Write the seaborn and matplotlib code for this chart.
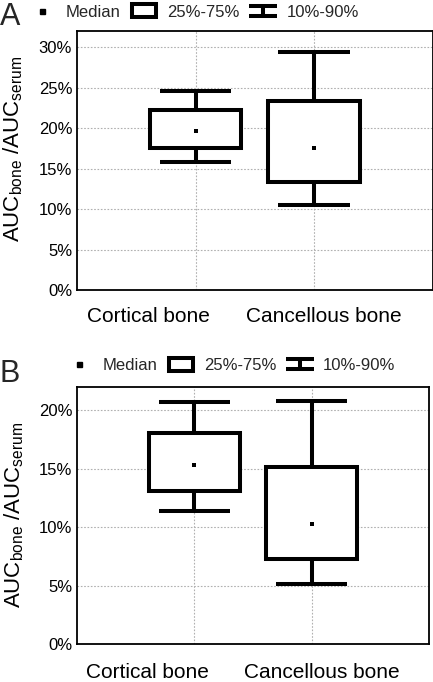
import matplotlib
matplotlib.use('Agg')
import matplotlib.pyplot as plt
import matplotlib.transforms as mtransforms
from matplotlib.lines import Line2D
from matplotlib.patches import Patch
from matplotlib.path import Path
import seaborn as sns

# data (percent)
categories = ['Cortical bone', 'Cancellous bone']
stat_labels = ['Median', '25%-75%', '10%-90%']

a_p10 = [15.8, 10.5]
a_q1 = [17.55, 13.4]
a_median = [19.65, 17.6]
a_q3 = [22.2, 23.4]
a_p90 = [24.6, 29.4]
a_yticks = [0, 5, 10, 15, 20, 25, 30]

b_p10 = [11.4, 5.1]
b_q1 = [13.1, 7.25]
b_median = [15.3, 10.3]
b_q3 = [18.0, 15.1]
b_p90 = [20.7, 20.8]
b_yticks = [0, 5, 10, 15, 20]

sns.set_theme(style='white')
plt.rcParams['font.family'] = ['Liberation Sans', 'DejaVu Sans']
plt.rcParams['mathtext.default'] = 'regular'
plt.rcParams['lines.solid_capstyle'] = 'butt'

LW = 2.9

# I-shaped marker for the 10%-90% legend entry
whisker_icon = Path(
    [(-1, 0.38), (1, 0.38), (0, 0.38), (0, -0.38), (-1, -0.38), (1, -0.38)],
    [Path.MOVETO, Path.LINETO, Path.MOVETO, Path.LINETO, Path.MOVETO, Path.LINETO])


def draw_panel(fig, rect, p10, q1, med, q3, p90, yticks, ymax,
               letter, letter_y, legend_xy, ylabel_y, xpad):
    ax = fig.add_axes(rect)
    pos = list(range(len(categories)))
    stats = [dict(med=m, q1=a, q3=b, whislo=lo, whishi=hi, fliers=[])
             for m, a, b, lo, hi in zip(med, q1, q3, p10, p90)]
    ax.bxp(stats, positions=pos, widths=0.77, capwidths=0.6,
           patch_artist=True, manage_ticks=False, zorder=2,
           boxprops=dict(facecolor='white', edgecolor='black', linewidth=LW),
           whiskerprops=dict(color='black', linewidth=LW),
           capprops=dict(color='black', linewidth=LW),
           medianprops=dict(visible=False))
    sns.scatterplot(x=pos, y=med, marker='s', s=10, color='black',
                    linewidth=0, ax=ax, legend=False, zorder=3)

    ax.set_xlim(-1, 2)
    ax.set_ylim(0, ymax)
    ax.set_xticks(pos)
    ax.set_xticklabels(categories, fontsize=15)
    ax.set_yticks(yticks)
    ax.set_yticklabels([f'{v}%' for v in yticks], fontsize=12)
    ax.tick_params(axis='y', length=0, pad=3.5, colors='black')
    ax.tick_params(axis='x', length=0, pad=xpad, colors='black')
    # category labels sit off-centre in the original
    for lab, dx in zip(ax.get_xticklabels(), [-34, 7]):
        lab.set_transform(lab.get_transform() +
                          mtransforms.ScaledTranslation(dx / 72, 0, fig.dpi_scale_trans))

    ax.grid(True, color='#b0b0b0', linestyle=(0, (1.5, 1.5)), linewidth=0.8)
    ax.set_axisbelow(True)
    for sp in ax.spines.values():
        sp.set_visible(True)
        sp.set_color('black')
        sp.set_linewidth(1.3)

    ax.set_ylabel(r'AUC$_{bone}$ /AUC$_{serum}$', fontsize=16, color='black')
    ax.yaxis.set_label_coords(-0.145, ylabel_y)

    fig.text(0.0, letter_y, letter, fontsize=22, va='baseline', ha='left')

    handles = [
        Line2D([], [], marker='s', color='black', linestyle='none', markersize=3.6),
        Patch(facecolor='white', edgecolor='black', linewidth=LW),
        Line2D([], [], marker=whisker_icon, linestyle='none', markersize=20,
               markerfacecolor='none', markeredgecolor='black', markeredgewidth=LW),
    ]
    fig.legend(handles, stat_labels, loc='center left', bbox_to_anchor=legend_xy,
               ncol=3, frameon=False, fontsize=12, borderpad=0, borderaxespad=0,
               handlelength=1.45, handleheight=0.8, handletextpad=0.69,
               columnspacing=0.66)
    return ax


W, H = 433, 682
fig = plt.figure(figsize=(W / 100, H / 100), dpi=100)

draw_panel(fig, [77 / W, 1 - 290 / H, 355.5 / W, 259 / H],
           a_p10, a_q1, a_median, a_q3, a_p90, a_yticks, 32,
           'A', 1 - 25 / H, (30 / W, 1 - 12 / H), 0.546, 12)
draw_panel(fig, [77 / W, 1 - 644 / H, 352 / W, 257.3 / H],
           b_p10, b_q1, b_median, b_q3, b_p90, b_yticks, 22,
           'B', 1 - 381.7 / H, (67 / W, 1 - 365.5 / H), 0.5, 14)

fig.savefig('out.png', dpi=100)
